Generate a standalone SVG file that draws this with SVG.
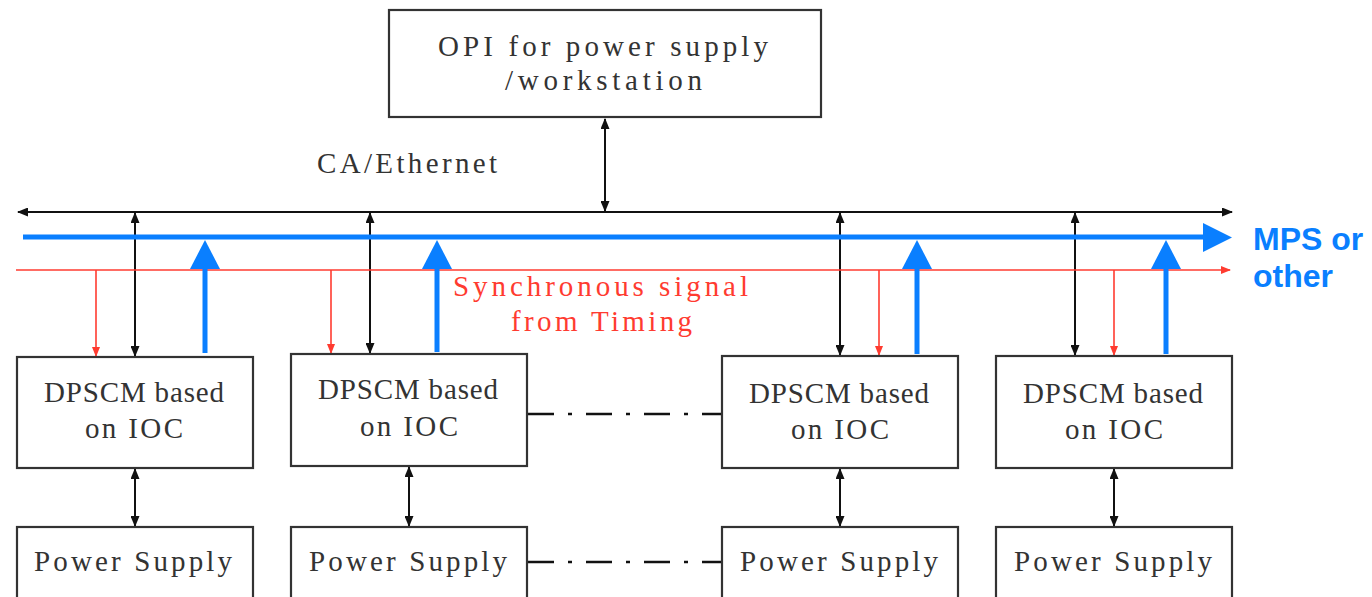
<svg xmlns="http://www.w3.org/2000/svg" width="1372" height="597" viewBox="0 0 1372 597">
<defs>
<style>
.box{fill:#fff;stroke:#333;stroke-width:2.2}
.t{font-family:"Liberation Serif","Times New Roman",serif;font-size:29px;fill:#333;text-anchor:start}
.rt{fill:#ff3b30}
.mps{font-family:"Liberation Sans",Arial,sans-serif;font-weight:bold;font-size:32px;fill:#0a7fff}
.blk{stroke:#111;stroke-width:2;fill:none}
.red{stroke:#ff3b30;stroke-width:1.6;fill:none}
.blue{stroke:#0a7fff;stroke-width:5;fill:none}
.dd{stroke:#111;stroke-width:2.6;fill:none;stroke-dasharray:26 14 4 14}
</style>
<marker id="ab" markerUnits="userSpaceOnUse" markerWidth="11" markerHeight="9" refX="10" refY="4.5" orient="auto-start-reverse"><path d="M0,0 L11,4.5 L0,9 z" fill="#111"/></marker>
<marker id="ar" markerUnits="userSpaceOnUse" markerWidth="10" markerHeight="8" refX="9" refY="4" orient="auto-start-reverse"><path d="M0,0 L10,4 L0,8 z" fill="#ff3b30"/></marker>
</defs>
<rect width="1372" height="597" fill="#fff"/>

<g id="connectors">
<line class="blk" x1="605" y1="119" x2="605" y2="211" marker-start="url(#ab)" marker-end="url(#ab)"/>
<line class="blk" x1="18" y1="212" x2="1232" y2="212" marker-start="url(#ab)" marker-end="url(#ab)"/>
<line class="blk" x1="135" y1="213" x2="135" y2="356" marker-start="url(#ab)" marker-end="url(#ab)"/>
<line class="blk" x1="370" y1="213" x2="370" y2="353" marker-start="url(#ab)" marker-end="url(#ab)"/>
<line class="blk" x1="840" y1="213" x2="840" y2="355" marker-start="url(#ab)" marker-end="url(#ab)"/>
<line class="blk" x1="1075" y1="213" x2="1075" y2="355" marker-start="url(#ab)" marker-end="url(#ab)"/>
<line class="red" x1="16" y1="270" x2="1230" y2="270" marker-end="url(#ar)"/>
<line class="red" x1="96" y1="270" x2="96" y2="356" marker-end="url(#ar)"/>
<line class="red" x1="331" y1="270" x2="331" y2="353" marker-end="url(#ar)"/>
<line class="red" x1="879" y1="270" x2="879" y2="355" marker-end="url(#ar)"/>
<line class="red" x1="1114" y1="270" x2="1114" y2="355" marker-end="url(#ar)"/>
<line class="blue" x1="23" y1="237" x2="1206" y2="237"/>
<polygon points="1203,223 1232,237.5 1203,252" fill="#0a7fff"/>
<line class="blue" x1="205" y1="353" x2="205" y2="265"/>
<polygon points="190,269 205,240 220,269" fill="#0a7fff"/>
<line class="blue" x1="437" y1="352" x2="437" y2="265"/>
<polygon points="422,269 437,240 452,269" fill="#0a7fff"/>
<line class="blue" x1="917" y1="354" x2="917" y2="265"/>
<polygon points="902,269 917,240 932,269" fill="#0a7fff"/>
<line class="blue" x1="1166" y1="354" x2="1166" y2="265"/>
<polygon points="1151,269 1166,240 1181,269" fill="#0a7fff"/>
<line class="blk" x1="135" y1="469" x2="135" y2="526" marker-start="url(#ab)" marker-end="url(#ab)"/>
<line class="blk" x1="409" y1="467" x2="409" y2="526" marker-start="url(#ab)" marker-end="url(#ab)"/>
<line class="blk" x1="840" y1="469" x2="840" y2="526" marker-start="url(#ab)" marker-end="url(#ab)"/>
<line class="blk" x1="1114" y1="469" x2="1114" y2="526" marker-start="url(#ab)" marker-end="url(#ab)"/>
<line class="dd" x1="528" y1="414" x2="722" y2="414"/>
<line class="dd" x1="528" y1="562" x2="722" y2="562"/>
</g>

<g id="opi">
<rect class="box" x="389" y="10" width="432" height="107"/>
<text class="t" x="438" y="56" textLength="330" lengthAdjust="spacing">OPI for power supply</text>
<text class="t" x="505" y="90" textLength="197" lengthAdjust="spacing">/workstation</text>
</g>

<g id="label-ca">
<text class="t" x="317" y="173" textLength="180" lengthAdjust="spacing">CA/Ethernet</text>
</g>

<g id="label-sync">
<text class="t rt" x="453" y="296" textLength="295" lengthAdjust="spacing">Synchronous signal</text>
<text class="t rt" x="511" y="331" textLength="181" lengthAdjust="spacing">from Timing</text>
</g>

<g id="label-mps">
<text class="mps" x="1253" y="250">MPS or</text>
<text class="mps" x="1253" y="287">other</text>
</g>

<g id="dpscm1">
<rect class="box" x="17" y="357" width="236" height="111"/>
<text class="t" x="44" y="402" textLength="180" lengthAdjust="spacing">DPSCM based</text>
<text class="t" x="85" y="438" textLength="98" lengthAdjust="spacing">on IOC</text>
</g>
<g id="dpscm2">
<rect class="box" x="291" y="354" width="236" height="112"/>
<text class="t" x="318" y="399" textLength="180" lengthAdjust="spacing">DPSCM based</text>
<text class="t" x="360" y="436" textLength="98" lengthAdjust="spacing">on IOC</text>
</g>
<g id="dpscm3">
<rect class="box" x="722" y="356" width="236" height="112"/>
<text class="t" x="749" y="403" textLength="180" lengthAdjust="spacing">DPSCM based</text>
<text class="t" x="791" y="439" textLength="98" lengthAdjust="spacing">on IOC</text>
</g>
<g id="dpscm4">
<rect class="box" x="996" y="356" width="236" height="112"/>
<text class="t" x="1023" y="403" textLength="180" lengthAdjust="spacing">DPSCM based</text>
<text class="t" x="1065" y="439" textLength="98" lengthAdjust="spacing">on IOC</text>
</g>

<g id="ps1">
<rect class="box" x="17" y="527" width="236" height="90"/>
<text class="t" x="34" y="571" textLength="198" lengthAdjust="spacing">Power Supply</text>
</g>
<g id="ps2">
<rect class="box" x="291" y="527" width="236" height="90"/>
<text class="t" x="309" y="571" textLength="198" lengthAdjust="spacing">Power Supply</text>
</g>
<g id="ps3">
<rect class="box" x="722" y="527" width="236" height="90"/>
<text class="t" x="740" y="571" textLength="198" lengthAdjust="spacing">Power Supply</text>
</g>
<g id="ps4">
<rect class="box" x="996" y="527" width="236" height="90"/>
<text class="t" x="1014" y="571" textLength="198" lengthAdjust="spacing">Power Supply</text>
</g>
</svg>
